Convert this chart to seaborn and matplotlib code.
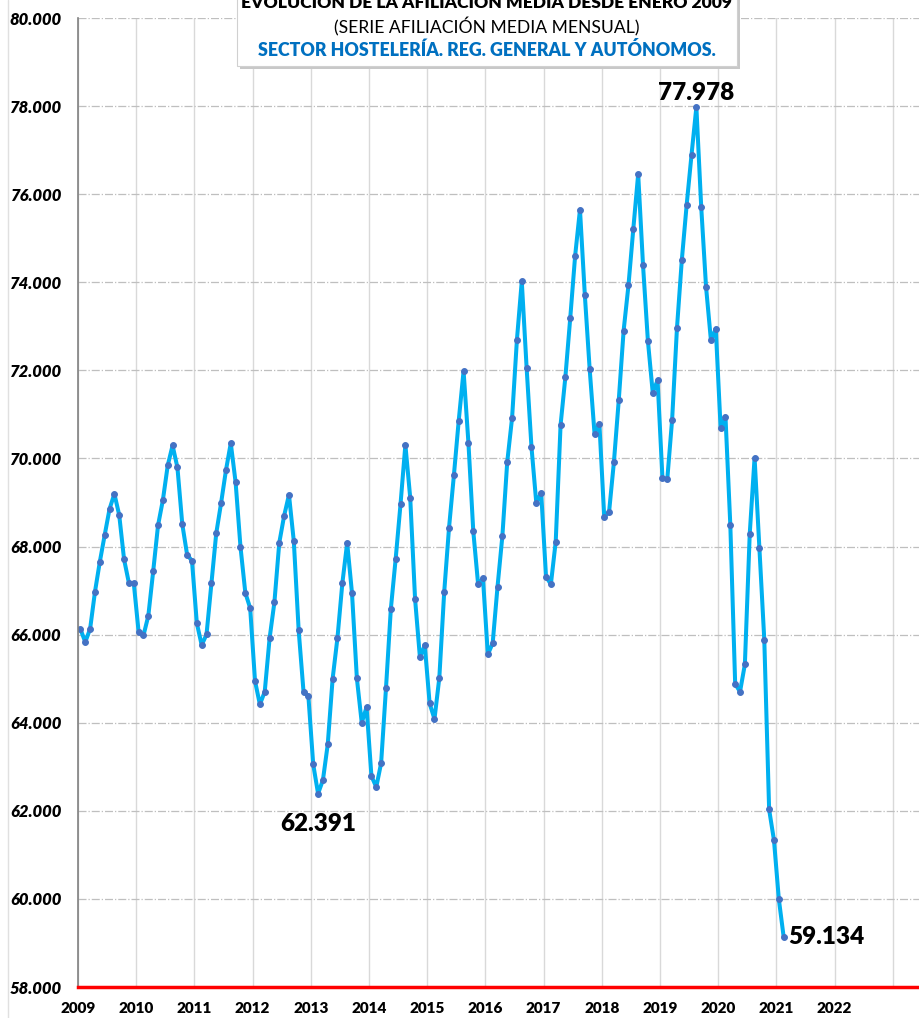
"""
Afiliación media mensual - Sector Hostelería (Reg. General y Autónomos)
Serie mensual desde enero 2009 hasta febrero 2021.
"""

import numpy as np
import pandas as pd
import matplotlib.pyplot as plt
import seaborn as sns
from matplotlib.patches import Rectangle
from matplotlib.lines import Line2D

# ─── Data (afiliados medios por mes) ───
afil_2009 = [66126, 65831, 66133, 66973, 67654, 68260, 68850, 69198, 68714, 67707, 67170, 67170]
afil_2010 = [66058, 65982, 66428, 67435, 68479, 69054, 69841, 70295, 69796, 68509, 67813, 67677]
afil_2011 = [66262, 65762, 66005, 67162, 68297, 68986, 69728, 70348, 69455, 67995, 66950, 66602]
afil_2012 = [64945, 64415, 64703, 65914, 66739, 68086, 68698, 69175, 68116, 66095, 64703, 64605]
afil_2013 = [63053, 62391, 62698, 63515, 64998, 65929, 67162, 68086, 66935, 65006, 64000, 64355]
afil_2014 = [62789, 62539, 63084, 64779, 66580, 67722, 68963, 70310, 69107, 66807, 65482, 65762]
afil_2015 = [64438, 64083, 65021, 66958, 68426, 69614, 70860, 71985, 70356, 68350, 67140, 67276]
afil_2016 = [65551, 65803, 67089, 68239, 69919, 70918, 72698, 74023, 72055, 70260, 68981, 69223]
afil_2017 = [67316, 67144, 68113, 70761, 71859, 73198, 74598, 75650, 73712, 72025, 70565, 70792]
afil_2018 = [68673, 68786, 69921, 71329, 72903, 73932, 75215, 76456, 74386, 72676, 71495, 71775]
afil_2019 = [69566, 69528, 70882, 72963, 74507, 75760, 76895, 77978, 75707, 73886, 72683, 72948]
afil_2020 = [70686, 70950, 68484, 64880, 64704, 65326, 68285, 70017, 67957, 65889, 62030, 61332]
afil_2021 = [59996, 59134]

years = list(range(2009, 2024))
year_labels = [str(y) for y in range(2009, 2023)] + [""]
y_ticks = list(range(58000, 80001, 2000))

# annotated points: (year, month, value)
highlights = [(2019, 8, 77978), (2013, 2, 62391), (2021, 2, 59134)]

TITLE_1 = "EVOLUCIÓN DE LA AFILIACIÓN MEDIA DESDE ENERO 2009"
TITLE_2 = "(SERIE AFILIACIÓN MEDIA MENSUAL)"
TITLE_3 = "SECTOR HOSTELERÍA. REG. GENERAL Y AUTÓNOMOS."

# ─── Build table ───
values = (afil_2009 + afil_2010 + afil_2011 + afil_2012 + afil_2013 + afil_2014
          + afil_2015 + afil_2016 + afil_2017 + afil_2018 + afil_2019 + afil_2020
          + afil_2021)
month_idx = np.arange(len(values))
df = pd.DataFrame({
    "pos": 2009 + (month_idx + 0.5) / 12,   # centro de cada mes
    "afiliados": values,
})


def fmt_es(v):
    return f"{v:,.0f}".replace(",", ".")


# ─── Plot ───
sns.set_style("white")
plt.rcParams["font.family"] = ["Lato", "DejaVu Sans"]

fig = plt.figure(figsize=(9.2, 10.18), dpi=100)
ax = fig.add_axes([78 / 920, 31 / 1018, (920 - 78) / 920, 969 / 1018])

sns.lineplot(
    data=df, x="pos", y="afiliados", ax=ax,
    color="#00b0f0", linewidth=2.9,
    marker="o", markersize=4.2,
    markerfacecolor="#4472c4", markeredgecolor="#4472c4",
)

ax.set_xlim(2009, 2009 + (920 - 78) / 58.2)
ax.set_ylim(58000, 80000)
ax.set_xticks(years)
ax.set_xticklabels(year_labels, fontweight="heavy", fontsize=11)
ax.set_yticks(y_ticks)
ax.set_yticklabels([fmt_es(v) for v in y_ticks], fontweight="heavy",
                   fontstyle="italic", fontsize=12)
ax.set_xlabel("")
ax.set_ylabel("")

# grid: vertical solid light gray, horizontal dash-dot
ax.grid(False)
for yr in years:
    ax.axvline(yr, color="#d9d9d9", linewidth=1.0, zorder=0)
for v in y_ticks[1:]:
    ax.axhline(v, color="#bfbfbf", linewidth=0.9, linestyle="-.", zorder=0)

for side in ["top", "right"]:
    ax.spines[side].set_visible(False)
ax.spines["left"].set_color("#808080")
ax.spines["left"].set_linewidth(1.2)
ax.spines["bottom"].set_color("#ff0000")
ax.spines["bottom"].set_linewidth(2.5)
ax.spines["bottom"].set_zorder(4)
ax.tick_params(axis="x", direction="in", length=7, width=1.6, colors="#ff0000",
               labelcolor="black", pad=11)
ax.tick_params(axis="y", direction="out", length=4, width=1, colors="#808080",
               labelcolor="black", pad=8)

# value labels
offsets = {77978: (0, 10), 62391: (0, -22), 59134: (31, 0)}
for yr, m, v in highlights:
    xpos = yr + (m - 0.5) / 12
    dx, dy = offsets[v]
    ax.annotate(fmt_es(v), (xpos, v), xytext=(dx, dy), textcoords="offset points",
                ha="center", va="center", fontsize=17.5, fontweight="heavy",
                color="black")

# ─── Title box ───
x0, x1 = 237 / 920, 737 / 920
yb = 1 - 66 / 1018
shadow = Rectangle((x0 + 3 / 920, yb - 3 / 1018), x1 - x0, 0.2,
                   transform=fig.transFigure, facecolor="#c8c8c8",
                   edgecolor="none", zorder=5)
box = Rectangle((x0, yb), x1 - x0, 0.2, transform=fig.transFigure,
                facecolor="white", edgecolor="#d0d0d0", linewidth=0.8, zorder=6)
fig.patches.extend([shadow, box])
xc = (x0 + x1) / 2
fig.text(xc, 1 - 3 / 1018, TITLE_1, ha="center", va="center", fontsize=12.6,
         fontweight="heavy", color="black", zorder=7)
fig.text(xc, 1 - 27 / 1018, TITLE_2, ha="center", va="center", fontsize=12.6,
         color="black", zorder=7)
fig.text(xc, 1 - 50 / 1018, TITLE_3, ha="center", va="center", fontsize=12.8,
         fontweight="heavy", color="#0070c0", zorder=7)

# faint left border of the chart area
fig.lines.append(Line2D([8 / 920, 8 / 920], [0, 1], transform=fig.transFigure,
                        color="#e0e0e0", linewidth=1))

plt.savefig("out.png", dpi=100)
plt.close()
